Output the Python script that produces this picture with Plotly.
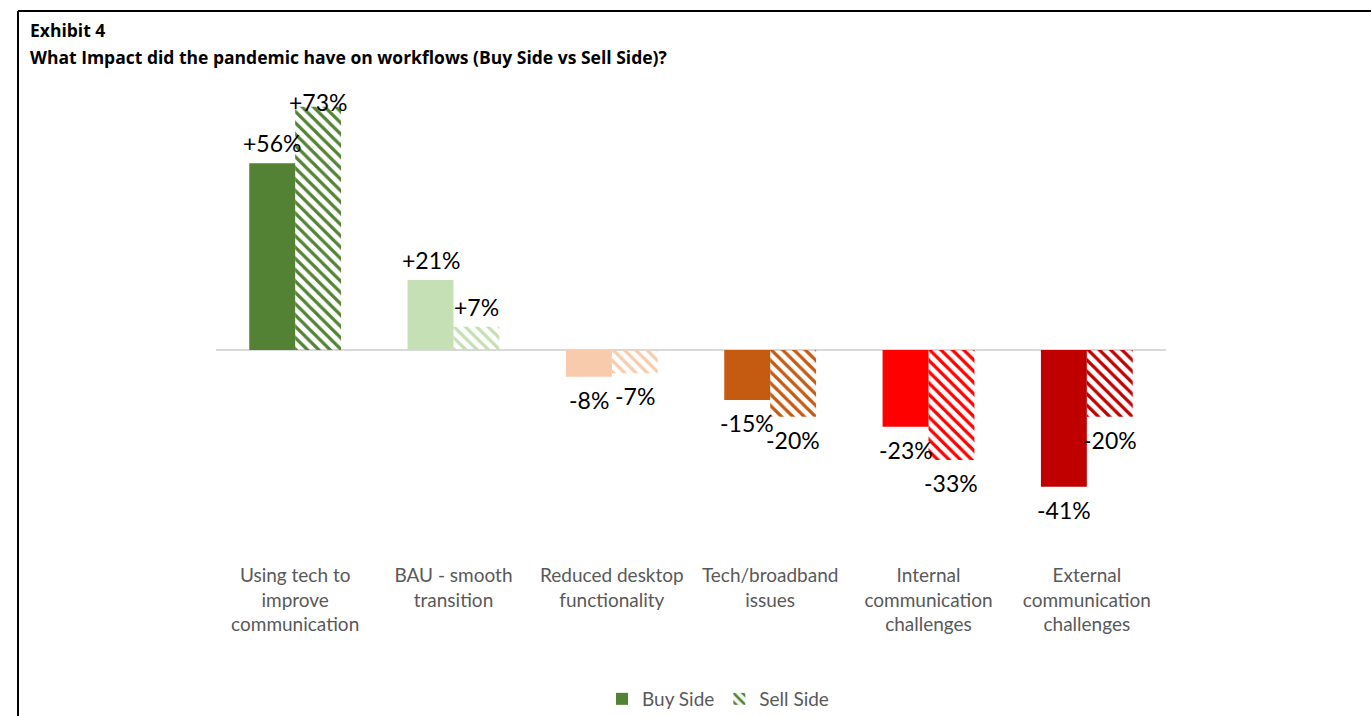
import plotly.graph_objects as go

# Survey results: net impact of the pandemic on workflows
categories = [
    "Using tech to<br>improve<br>communication",
    "BAU - smooth<br>transition",
    "Reduced desktop<br>functionality",
    "Tech/broadband<br>issues",
    "Internal<br>communication<br>challenges",
    "External<br>communication<br>challenges",
]
buy_side = [56, 21, -8, -15, -23, -41]
sell_side = [73, 7, -7, -20, -33, -20]
colors = ["#548235", "#c5e0b4", "#f8cbad", "#c55a11", "#ff0000", "#c00000"]
tints = ["#f4f7f1", "#f9fcf7", "#fefaf7", "#fcf6f3", "#fff5f5", "#fcf3f3"]

Y_MIN, Y_MAX = -63.6, 75
BARGAP = 0.42
FONT = "Lato"
TITLE_FONT = "Open Sans"

x = list(range(len(categories)))
fig = go.Figure()
fig.add_trace(go.Bar(
    x=x, y=buy_side, name="Buy Side",
    marker=dict(color=colors, line=dict(width=0)),
))
fig.add_trace(go.Bar(
    x=x, y=sell_side, name="Sell Side",
    marker=dict(
        color=colors, line=dict(width=0),
        pattern=dict(shape="\\", size=8, solidity=0.4, bgcolor=tints,
                     fgcolor=colors, fillmode="replace"),
    ),
))

# value labels above positive bars, below negative ones
half = (1 - BARGAP) / 4
px_per_unit = 462 / (Y_MAX - Y_MIN)
for vals, dx in ((buy_side, -half), (sell_side, half)):
    for i, v in enumerate(vals):
        if v >= 0:
            ly = min(v + 20 / px_per_unit, Y_MAX - 0.6)
            txt = f"+{v}%"
        else:
            ly = v - 23 / px_per_unit
            txt = f"{v}%"
        fig.add_annotation(x=i + dx, y=ly, text=txt, showarrow=False,
                           xanchor="center", yanchor="middle",
                           font=dict(family=FONT, size=23, color="#000000"))

# heading
fig.add_annotation(xref="paper", yref="paper", x=(28 - 216) / 950, y=(562 - 30) / 462,
                   text="<b>Exhibit 4</b>", showarrow=False, xanchor="left", yanchor="middle",
                   font=dict(family=TITLE_FONT, size=17.5, color="#000000"))
fig.add_annotation(xref="paper", yref="paper", x=(28 - 216) / 950, y=(562 - 57) / 462,
                   text="<b>What Impact did the pandemic have on workflows (Buy Side vs Sell Side)?</b>",
                   showarrow=False, xanchor="left", yanchor="middle",
                   font=dict(family=TITLE_FONT, size=17.5, color="#000000"))

# frame on the left and top edges
fig.add_shape(type="line", xref="paper", yref="paper",
              x0=(18 - 216) / 950, x1=(18 - 216) / 950,
              y0=(562 - 11) / 462, y1=(562 - 720) / 462,
              line=dict(color="#000000", width=2))
fig.add_shape(type="line", xref="paper", yref="paper",
              x0=(18 - 216) / 950, x1=(1375 - 216) / 950,
              y0=(562 - 11) / 462, y1=(562 - 11) / 462,
              line=dict(color="#000000", width=2))

fig.update_layout(
    width=1371, height=716,
    margin=dict(l=216, r=205, t=100, b=154, autoexpand=False),
    paper_bgcolor="#ffffff", plot_bgcolor="#ffffff",
    barmode="group", bargap=BARGAP, bargroupgap=0,
    showlegend=True,
    legend=dict(orientation="h", x=(718 - 216) / 950, xanchor="center",
                y=(562 - 699) / 462, yanchor="middle",
                font=dict(family=FONT, size=19, color="#595959"),
                itemwidth=30, tracegroupgap=0),
    xaxis=dict(range=[-0.5, 5.5], tickvals=x, ticktext=categories,
               showgrid=False, showline=False, zeroline=False, ticks="",
               automargin=False,
               tickfont=dict(family=FONT, size=19, color="#595959")),
    yaxis=dict(range=[Y_MIN, Y_MAX], showgrid=False, showticklabels=False,
               zeroline=True, zerolinecolor="#d9d9d9", zerolinewidth=2,
               showline=False, ticks="", automargin=False),
    font=dict(family=FONT),
)

fig.write_html("out.html")
